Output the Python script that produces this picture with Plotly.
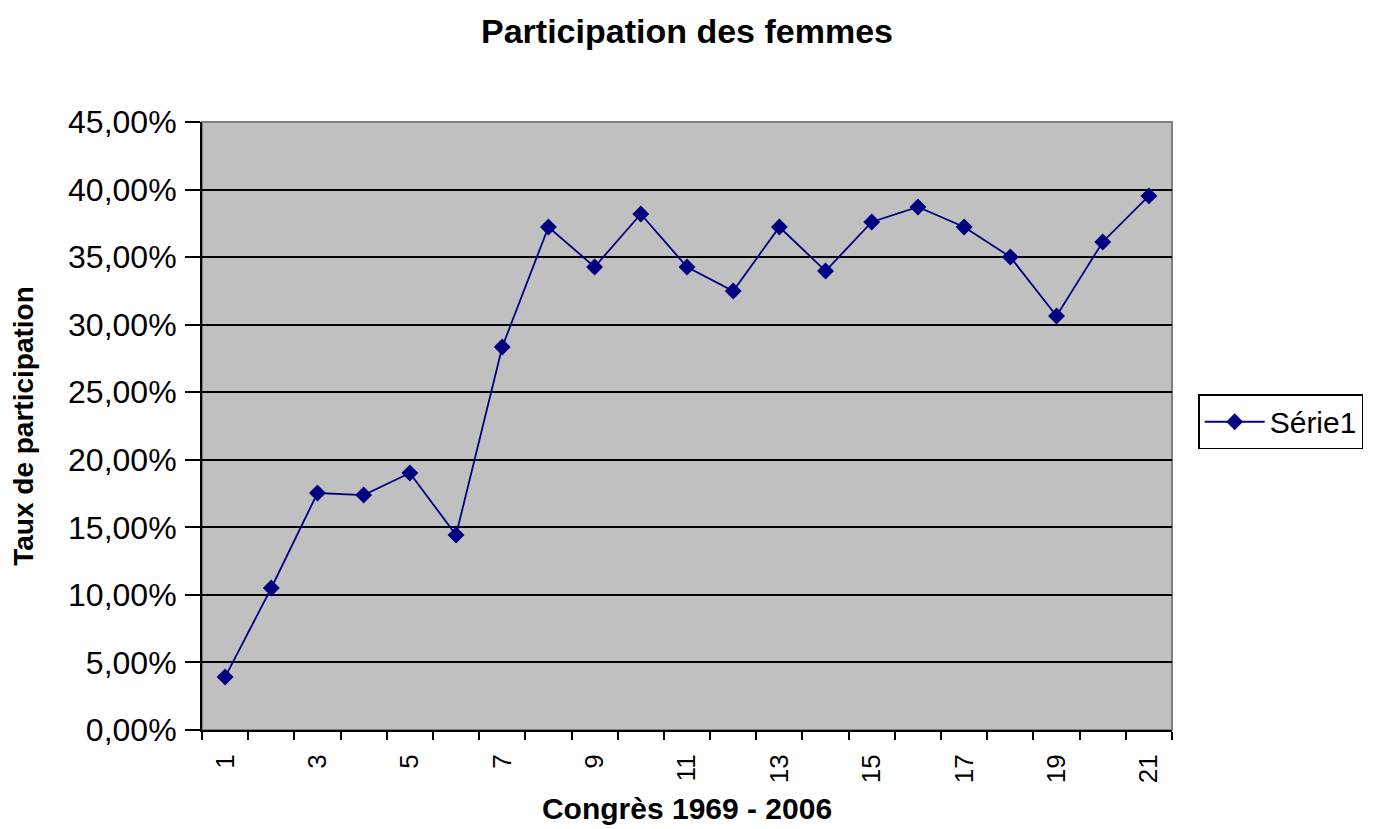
import plotly.graph_objects as go

congres = list(range(1, 22))
taux = [0.0392, 0.1051, 0.1754, 0.1739, 0.1902, 0.1443, 0.2835, 0.3723, 0.3427,
        0.3819, 0.3427, 0.3249, 0.3723, 0.3397, 0.3760, 0.3871, 0.3723, 0.3501,
        0.3064, 0.3612, 0.3953]
tick_labels = [str(c) for c in congres if c % 2 == 1]
tick_positions = [c for c in congres if c % 2 == 1]

fig = go.Figure()
fig.add_trace(go.Scatter(
    x=congres, y=taux, mode="lines+markers", name="Série1",
    line=dict(color="#000080", width=1.8),
    marker=dict(symbol="diamond", size=13, color="#000080"),
))

fig.update_layout(
    width=1381, height=821,
    margin=dict(l=194, r=217, t=114, b=99, autoexpand=False),
    paper_bgcolor="white", plot_bgcolor="#c0c0c0",
    separators=", ",
    font=dict(family="Arial, Liberation Sans, sans-serif", size=26, color="black"),
    title=dict(text="<b>Participation des femmes</b>", x=0.5, xanchor="center",
               xref="paper",
               y=0.972, yanchor="middle", font=dict(size=34)),
    showlegend=True,
    legend=dict(x=1.027, y=0.507, xanchor="left", yanchor="middle",
                bordercolor="black", borderwidth=1.5, bgcolor="white",
                itemwidth=60,
                font=dict(size=30)),
    xaxis=dict(
        range=[0.5, 21.5], tickmode="array", tickvals=tick_positions, ticktext=tick_labels,
        tickangle=-90, ticks="", showgrid=False, zeroline=False,
        tickfont=dict(size=26), ticklabelstandoff=12,
        showline=True, linecolor="black", linewidth=2,
        minor=dict(tick0=0.5, dtick=1, ticks="outside", ticklen=8, tickcolor="black", tickwidth=2, showgrid=False),
        title=dict(text="<b>Congrès 1969 - 2006</b>", font=dict(size=30), standoff=16),
    ),
    yaxis=dict(
        range=[0, 0.45], dtick=0.05, tickformat=".2%",
        tickfont=dict(size=32), ticklabelstandoff=2,
        ticks="outside", ticklen=15, tickcolor="black", tickwidth=2,
        showgrid=True, gridcolor="black", gridwidth=1.8, zeroline=False,
        showline=True, linecolor="black", linewidth=2,
        title=dict(text="<b>Taux de participation</b>", font=dict(size=28), standoff=26),
    ),
)
fig.add_shape(type="rect", xref="paper", yref="paper", x0=0, x1=1, y0=0, y1=1,
              line=dict(color="#808080", width=2), layer="below")
fig.write_html("out.html")
